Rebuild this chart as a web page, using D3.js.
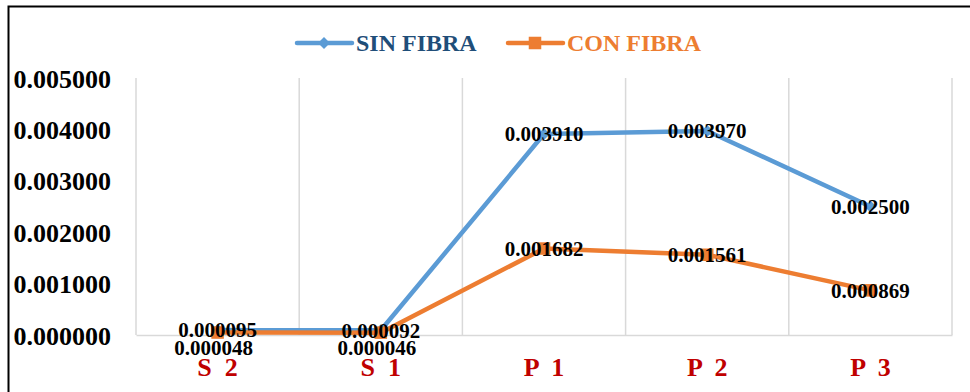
<!DOCTYPE html>
<html>
<head>
<meta charset="utf-8">
<script src="https://cdn.jsdelivr.net/npm/d3@7"></script>
<style>
  html, body { margin: 0; padding: 0; background: #fff; }
  svg { display: block; font-family: "Liberation Serif", "Times New Roman", serif; }
</style>
</head>
<body>
<svg id="chart" width="970" height="392"></svg>
<script>
// Categories and series
const categories = ["S  2", "S  1", "P  1", "P  2", "P  3"];
const sinFibra = [0.000095, 0.000092, 0.003910, 0.003970, 0.002500];
const conFibra = [0.000048, 0.000046, 0.001682, 0.001561, 0.000869];
const yTicks = [0, 0.001, 0.002, 0.003, 0.004, 0.005];
// Where each CON FIBRA value label sits relative to its point
const conLabelPlacement = ["below", "below", "center", "center", "center"];

const seriesList = [
  { name: "SIN FIBRA", values: sinFibra, color: "#5B9BD5", text: "#1F4E79", marker: "diamond" },
  { name: "CON FIBRA", values: conFibra, color: "#ED7D31", text: "#ED7D31", marker: "square" }
];

const W = 970, H = 392;
const plot = { left: 136, right: 952, top: 78, bottom: 335 };

const svg = d3.select("#chart");

// Outer frame
svg.append("rect")
  .attr("x", 8.5).attr("y", 6.5)
  .attr("width", W + 10).attr("height", H + 10)
  .attr("fill", "none").attr("stroke", "#000").attr("stroke-width", 2);

const x = d3.scaleBand().domain(categories).range([plot.left, plot.right]).padding(0);
const y = d3.scaleLinear().domain([0, 0.005]).range([plot.bottom, plot.top]);

// Vertical category separators
const sepPositions = categories.map(c => x(c)).concat([x.range()[1]]);
svg.append("g").selectAll("line").data(sepPositions).join("line")
  .attr("x1", d => d).attr("x2", d => d)
  .attr("y1", plot.top).attr("y2", plot.bottom)
  .attr("stroke", "#D9D9D9").attr("stroke-width", 1.5);

// Category axis
const xAxis = svg.append("g")
  .attr("transform", `translate(0,${plot.bottom})`)
  .call(d3.axisBottom(x).tickSize(0).tickPadding(0));
xAxis.select(".domain").attr("stroke", "#D9D9D9").attr("stroke-width", 1.5);
xAxis.selectAll(".tick text")
  .attr("dy", 0).attr("y", 41)
  .style("white-space", "pre")
  .attr("fill", "#C00000")
  .attr("font-family", "Liberation Serif, Times New Roman, serif")
  .attr("font-weight", "bold")
  .attr("font-size", 26);

// Value axis
const yAxis = svg.append("g")
  .attr("transform", `translate(${plot.left},0)`)
  .call(d3.axisLeft(y).tickValues(yTicks).tickFormat(d3.format(".6f")).tickSize(0).tickPadding(25));
yAxis.select(".domain").remove();
yAxis.selectAll(".tick text")
  .attr("dy", "0.35em")
  .attr("fill", "#000")
  .attr("font-family", "Liberation Serif, Times New Roman, serif")
  .attr("font-weight", "bold")
  .attr("font-size", 26);

// Lines and markers
const line = d3.line().x((d, i) => x(categories[i]) + x.bandwidth() / 2).y(d => y(d));

seriesList.forEach(s => {
  const g = svg.append("g");
  g.append("path").datum(s.values)
    .attr("d", line)
    .attr("fill", "none").attr("stroke", s.color)
    .attr("stroke-width", 4.5).attr("stroke-linejoin", "round").attr("stroke-linecap", "round");
  const sym = s.marker === "diamond"
    ? d3.symbol().type(d3.symbolDiamond2).size(90)
    : d3.symbol().type(d3.symbolSquare2).size(200);
  g.selectAll("path.mk").data(s.values).join("path")
    .attr("class", "mk")
    .attr("transform", (d, i) => `translate(${x(categories[i]) + x.bandwidth() / 2},${y(d)})`)
    .attr("d", sym)
    .attr("fill", s.color);
});

// Value labels
const fmt = d3.format(".6f");
seriesList.forEach((s, si) => {
  svg.append("g").selectAll("text").data(s.values).join("text")
    .attr("x", (d, i) => x(categories[i]) + x.bandwidth() / 2 + (si === 1 && conLabelPlacement[i] === "below" ? -4 : 0))
    .attr("y", (d, i) => y(d) + (si === 1 && conLabelPlacement[i] === "below" ? 15 : 0))
    .attr("dy", "0.35em")
    .attr("text-anchor", "middle")
    .attr("font-weight", "bold")
    .attr("font-size", 21)
    .attr("fill", "#000")
    .text(d => fmt(d));
});

// Legend
const legend = svg.append("g");
const legendItems = [
  { s: seriesList[0], x0: 297 },
  { s: seriesList[1], x0: 508 }
];
legendItems.forEach(({ s, x0 }) => {
  const ly = 43;
  legend.append("line")
    .attr("x1", x0).attr("x2", x0 + 55).attr("y1", ly).attr("y2", ly)
    .attr("stroke", s.color).attr("stroke-width", 4.5).attr("stroke-linecap", "round");
  const sym = s.marker === "diamond"
    ? d3.symbol().type(d3.symbolDiamond2).size(90)
    : d3.symbol().type(d3.symbolSquare2).size(200);
  legend.append("path")
    .attr("transform", `translate(${x0 + 27},${ly})`)
    .attr("d", sym).attr("fill", s.color);
  legend.append("text")
    .attr("x", x0 + 59).attr("y", ly).attr("dy", "0.35em")
    .attr("font-weight", "bold").attr("font-size", 24)
    .attr("fill", s.text)
    .text(s.name);
});
</script>
</body>
</html>
